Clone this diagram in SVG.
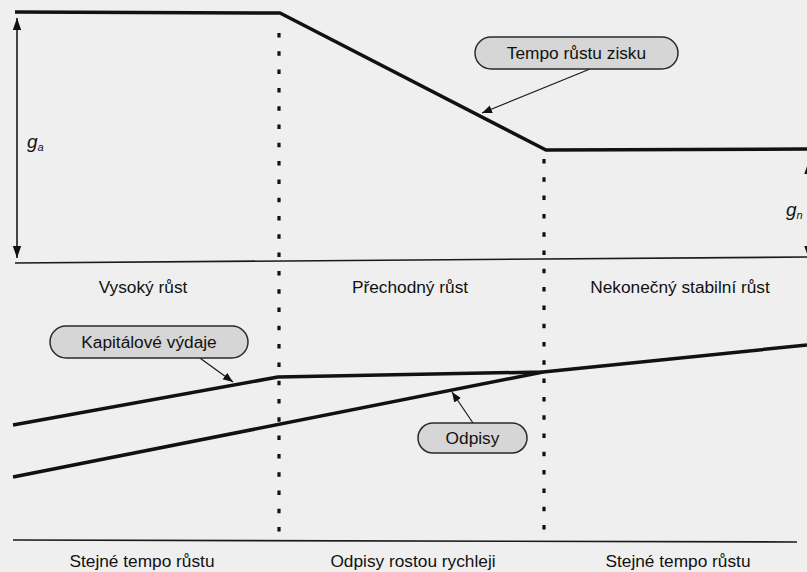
<svg xmlns="http://www.w3.org/2000/svg" width="807" height="572" viewBox="0 0 807 572">
<defs>
<style>
.bg{fill:#efefef}
.thick{fill:none;stroke:#111;stroke-width:3.5;stroke-linejoin:round}
.base{fill:none;stroke:#1a1a1a;stroke-width:1.6}
.dot{fill:none;stroke:#111;stroke-width:3.2;stroke-dasharray:4.5 13.8}
.ptr{fill:none;stroke:#1a1a1a;stroke-width:1.2}
.pill{fill:#d6d6d6;stroke:#2a2a2a;stroke-width:1.5}
.t{font-family:"Liberation Sans",Arial,sans-serif;font-size:17.3px;fill:#111}
.g{font-family:"Liberation Sans",Arial,sans-serif;font-size:19px;font-style:italic;fill:#111}
.sub{font-size:11px}
</style>
<marker id="ah" viewBox="0 0 10 10" refX="10" refY="5" markerWidth="10" markerHeight="10" markerUnits="userSpaceOnUse" orient="auto">
<path d="M0,1 L10,5 L0,9 Z" fill="#111"/>
</marker>
<marker id="vh" viewBox="0 0 10 10" refX="10" refY="5" markerWidth="12" markerHeight="12" markerUnits="userSpaceOnUse" orient="auto-start-reverse">
<path d="M0,1.5 L10,5 L0,8.5 Z" fill="#111"/>
</marker>
</defs>
<rect class="bg" x="0" y="0" width="807" height="572"/>

<g id="connectors">
<path class="thick" d="M15,12 L280,13 L546,150 L807,149"/>
<path class="thick" d="M13,425 L278,377 L543,372 L807,345"/>
<path class="thick" d="M13,477 L543,372"/>
<path class="base" d="M15,263 L807,257"/>
<path class="base" d="M13,540 L797,542"/>
<path class="dot" d="M279,33 L279,540"/>
<path class="dot" d="M544,159 L544,543"/>
<path class="base" d="M17,18 L17,258" marker-start="url(#vh)" marker-end="url(#vh)"/>
<path class="base" d="M808.5,162 L808.5,258" marker-start="url(#vh)" marker-end="url(#vh)"/>
<path class="ptr" d="M590,69 L482,113" marker-end="url(#ah)"/>
<path class="ptr" d="M193,353 L233,382" marker-end="url(#ah)"/>
<path class="ptr" d="M473,423 L452,392" marker-end="url(#ah)"/>
</g>

<g id="ga"><text class="g" x="27" y="148">g<tspan class="sub" dy="3">a</tspan></text></g>
<g id="gn"><text class="g" x="786" y="216">g<tspan class="sub" dy="3">n</tspan></text></g>

<g id="tempo">
<rect class="pill" x="475" y="37" width="203" height="32" rx="16"/>
<text class="t" x="576.5" y="59" text-anchor="middle">Tempo růstu zisku</text>
</g>
<g id="kapitalove">
<rect class="pill" x="50" y="326" width="198" height="32" rx="16"/>
<text class="t" x="149" y="348" text-anchor="middle">Kapitálové výdaje</text>
</g>
<g id="odpisy">
<rect class="pill" x="418" y="423" width="109" height="30" rx="15"/>
<text class="t" x="472.5" y="444" text-anchor="middle">Odpisy</text>
</g>

<g id="phase-labels">
<text class="t" x="143" y="293" text-anchor="middle">Vysoký růst</text>
<text class="t" x="410" y="293" text-anchor="middle">Přechodný růst</text>
<text class="t" x="680" y="293" text-anchor="middle">Nekonečný stabilní růst</text>
</g>
<g id="bottom-labels">
<text class="t" x="142" y="567" text-anchor="middle">Stejné tempo růstu</text>
<text class="t" x="413" y="567" text-anchor="middle">Odpisy rostou rychleji</text>
<text class="t" x="678" y="567" text-anchor="middle">Stejné tempo růstu</text>
</g>
</svg>
